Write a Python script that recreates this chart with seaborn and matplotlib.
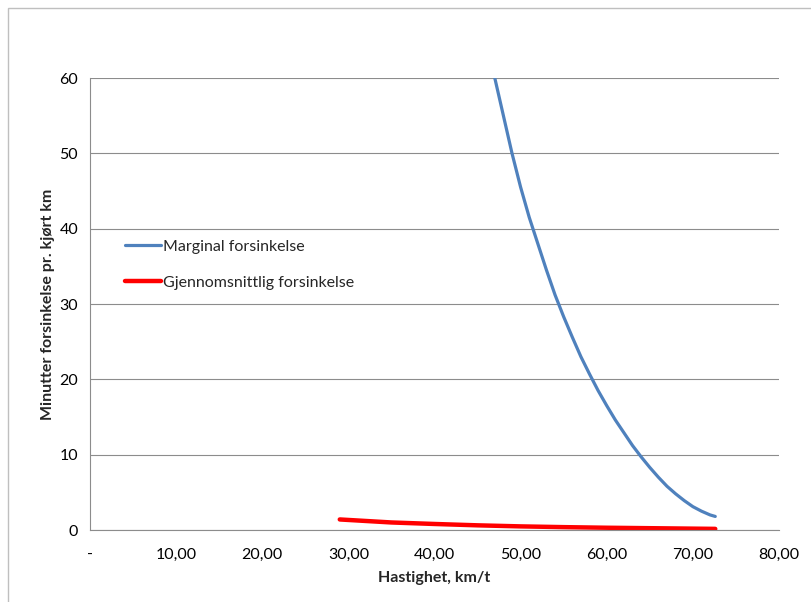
import pandas as pd
import matplotlib.pyplot as plt
import matplotlib.patches as patches
import seaborn as sns

# Verdier lest av figuren
hastighet_marginal = [47, 48, 49, 50, 51, 52, 53, 54, 55, 56, 57, 58, 59, 60,
                      61, 62, 63, 64, 65, 66, 67, 68, 69, 70, 71, 72, 72.6]
marginal = [60, 55, 50, 45.5, 41.5, 38, 34.5, 31.2, 28.3, 25.6, 23, 20.7, 18.5, 16.5,
            14.6, 12.9, 11.2, 9.7, 8.3, 7, 5.8, 4.8, 3.9, 3.1, 2.5, 2.0, 1.8]

hastighet_snitt = [29, 32, 35, 40, 45, 50, 55, 60, 65, 70, 72.6]
snitt = [1.4, 1.2, 1.0, 0.8, 0.62, 0.48, 0.38, 0.3, 0.24, 0.18, 0.15]

x_ticks = [0, 10, 20, 30, 40, 50, 60, 70, 80]
x_labels = ['-', '10,00', '20,00', '30,00', '40,00', '50,00', '60,00', '70,00', '80,00']
y_ticks = [0, 10, 20, 30, 40, 50, 60]

df_marg = pd.DataFrame({'Hastighet': hastighet_marginal, 'Forsinkelse': marginal})
df_snitt = pd.DataFrame({'Hastighet': hastighet_snitt, 'Forsinkelse': snitt})

sns.set_style("white")
plt.rcParams['font.family'] = ['Lato', 'DejaVu Sans']
fs = 11.5

fig = plt.figure(figsize=(8.12, 6.02), dpi=100)
ax = fig.add_axes([90 / 812, 1 - 530 / 602, (779 - 90) / 812, (530 - 78) / 602])

# ramme rundt diagrammet
fig.patches.append(patches.Rectangle((8 / 812, -0.05), 1.1, 1 - 8 / 602 + 0.05,
                                     transform=fig.transFigure, fill=False,
                                     edgecolor='#bfbfbf', linewidth=1))

sns.lineplot(data=df_marg, x='Hastighet', y='Forsinkelse', ax=ax, color='#4F81BD',
             linewidth=2.3, label='Marginal forsinkelse')
sns.lineplot(data=df_snitt, x='Hastighet', y='Forsinkelse', ax=ax, color='#FF0000',
             linewidth=3.2, label='Gjennomsnittlig forsinkelse')

ax.set_xlim(0, 80)
ax.set_ylim(0, 60)
ax.set_xticks(x_ticks)
ax.set_xticklabels(x_labels)
ax.set_yticks(y_ticks)
ax.yaxis.grid(True, color='#8c8c8c', linewidth=0.8)
ax.set_axisbelow(True)
for side in ['top', 'right']:
    ax.spines[side].set_visible(False)
for side in ['left', 'bottom']:
    ax.spines[side].set_color('#8c8c8c')
    ax.spines[side].set_linewidth(0.8)
ax.tick_params(axis='both', which='both', direction='out', length=3.6, width=0.8,
               color='#8c8c8c', labelsize=fs, labelcolor='black')
ax.tick_params(axis='x', pad=9)
ax.tick_params(axis='y', pad=5)

ax.set_xlabel('Hastighet, km/t', fontsize=fs, fontweight='bold', labelpad=7)
ax.set_ylabel('Minutter forsinkelse pr. kjørt km', fontsize=fs, fontweight='bold', labelpad=3)

ax.legend(loc='upper left', bbox_to_anchor=(0.051, 0.642), frameon=False, fontsize=fs,
          borderaxespad=0, borderpad=0, handlelength=2.25, handletextpad=0.1,
          labelspacing=1.35)

plt.savefig('out.png', dpi=100)
